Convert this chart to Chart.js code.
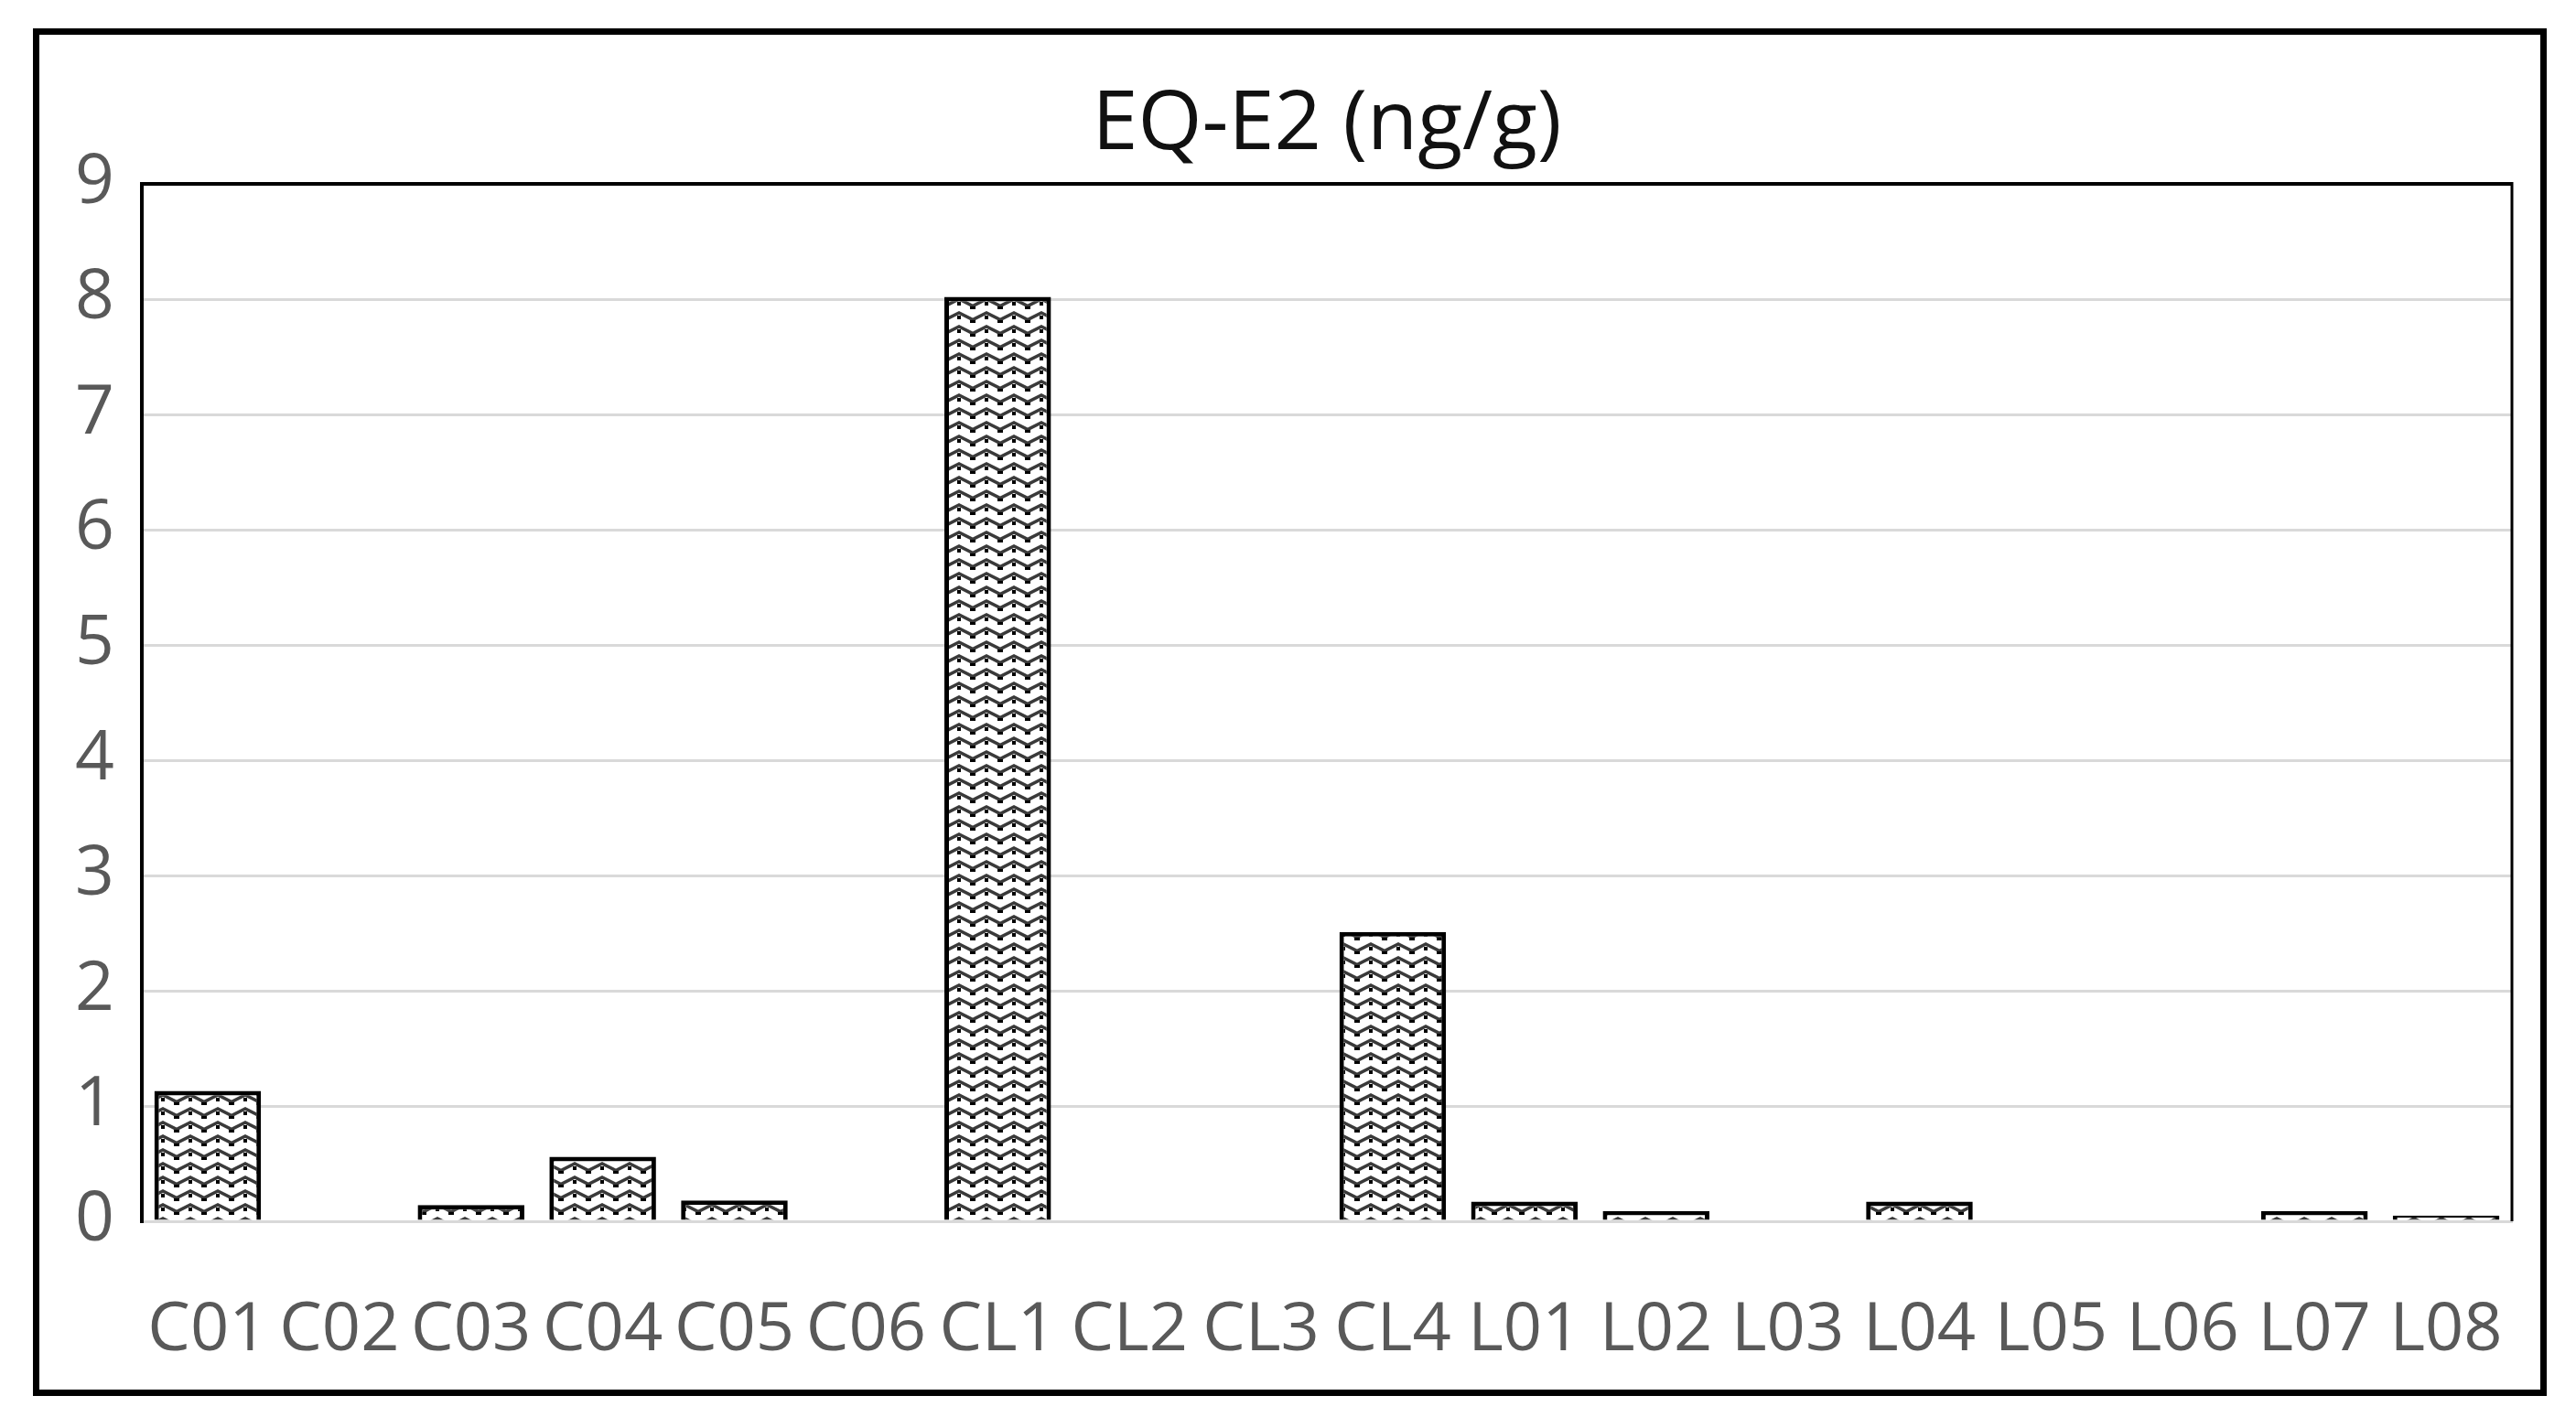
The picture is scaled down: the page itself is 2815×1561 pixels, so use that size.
<!DOCTYPE html>
<html>
<head>
<meta charset="utf-8">
<script src="https://cdn.jsdelivr.net/npm/chart.js@4.4.1/dist/chart.umd.min.js"></script>
<style>
  html, body { margin: 0; padding: 0; background: #fff; }
  #frame { position: absolute; left: 36px; top: 31px; width: 2733px; height: 1481px; border: 7px solid #000; }
  #chart { display: block; width: 2733px; height: 1481px; }
</style>
</head>
<body>
<div id="frame"><canvas id="chart" width="2733" height="1481"></canvas></div>
<script>
// sample codes along the x axis
const samples = ['C01', 'C02', 'C03', 'C04', 'C05', 'C06', 'CL1', 'CL2', 'CL3', 'CL4',
                 'L01', 'L02', 'L03', 'L04', 'L05', 'L06', 'L07', 'L08'];
// EQ-E2 in ng/g
const eqE2 = [1.13, 0, 0.14, 0.56, 0.18, 0, 8.02, 0, 0, 2.51,
              0.17, 0.09, 0, 0.17, 0, 0, 0.09, 0.05];
const yMin = 0;
const yMax = 9;
const yStep = 1;

// wavy hatch fill like the original bars
function wavePattern() {
    const tile = document.createElement('canvas');
    tile.width = 30;
    tile.height = 15;
    const t = tile.getContext('2d');
    t.fillStyle = '#fff';
    t.fillRect(0, 0, 30, 15);
    t.strokeStyle = '#3a3a3a';
    t.lineWidth = 3.5;
    t.beginPath();
    t.moveTo(-1, 12);
    t.lineTo(15, 4);
    t.lineTo(31, 12);
    t.stroke();
    t.fillStyle = '#000';
    t.fillRect(13, 7, 4, 4);
    t.fillRect(0, 12, 3, 3);
    t.fillRect(27, 12, 3, 3);
    return t.createPattern(tile, 'repeat');
}

// black right edge of the plot box
const plotFrame = {
    id: 'plotFrame',
    afterDraw(chart) {
        const { ctx, chartArea: { top, right, bottom } } = chart;
        ctx.save();
        ctx.strokeStyle = '#000';
        ctx.lineWidth = 3;
        ctx.beginPath();
        ctx.moveTo(right, top - 2);
        ctx.lineTo(right, bottom);
        ctx.stroke();
        ctx.restore();
    }
};

const ctx = document.getElementById('chart').getContext('2d');

new Chart(ctx, {
    type: 'bar',
    data: {
        labels: samples,
        datasets: [{
            data: eqE2,
            backgroundColor: wavePattern(),
            borderColor: '#000',
            borderWidth: 5,
            categoryPercentage: 0.9,
            barPercentage: 0.9
        }]
    },
    options: {
        responsive: false,
        animation: false,
        layout: { padding: { left: 20, right: 31, top: 0, bottom: 0 } },
        plugins: {
            legend: { display: false },
            tooltip: { enabled: false },
            title: {
                display: true,
                fullSize: false,
                text: 'EQ-E2 (ng/g)',
                color: '#111',
                font: { family: 'Open Sans', size: 90, weight: 'normal', lineHeight: 1.2 },
                padding: { top: 45, bottom: 10 }
            }
        },
        scales: {
            x: {
                grid: { display: false, drawTicks: false },
                border: { display: true, color: '#d9d9d9', width: 3 },
                ticks: {
                    color: '#595959',
                    font: { family: 'Open Sans', size: 74 },
                    padding: 76,
                    maxRotation: 0,
                    minRotation: 0,
                    autoSkip: false
                },
                afterFit: scale => {
                    scale.height = 184;
                    scale.paddingLeft = 0;
                    scale.paddingRight = 0;
                }
            },
            y: {
                min: yMin,
                max: yMax,
                ticks: { stepSize: yStep, color: '#595959', font: { family: 'Open Sans', size: 75 }, padding: 30 },
                grid: {
                    drawTicks: false,
                    color: c => (c.tick && c.tick.value === yMax ? '#000' : '#d9d9d9'),
                    lineWidth: c => (c.tick && c.tick.value === yMax ? 4 : 3)
                },
                border: { color: '#000', width: 4 },
                afterFit: scale => {
                    scale.width = 92;
                    scale.paddingTop = 0;
                    scale.paddingBottom = 0;
                }
            }
        }
    },
    plugins: [plotFrame]
});
</script>
</body>
</html>
